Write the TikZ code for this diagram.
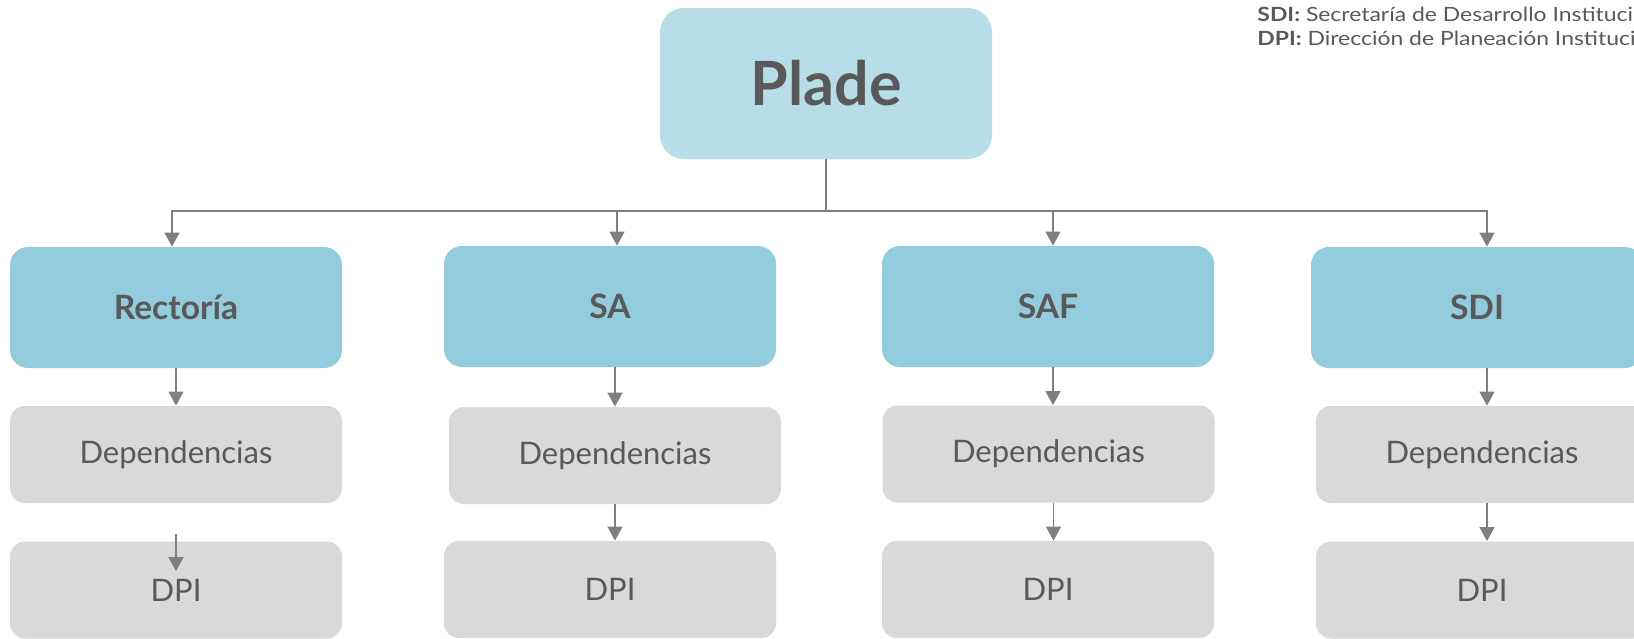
\documentclass[tikz,border=0pt]{standalone}
\usepackage{fontspec}
\setmainfont{Lato}
\usepackage{tikz}
\usetikzlibrary{arrows.meta}
\definecolor{plade}{HTML}{B7DEE8}
\definecolor{secblue}{HTML}{93CDDD}
\definecolor{depgray}{HTML}{D9D9D9}
\definecolor{txtgray}{HTML}{595959}
\definecolor{lngray}{HTML}{7F7F7F}

\begin{document}
\begin{tikzpicture}[x=0.5pt,y=-0.5pt]
\tikzstyle{every node}+=[inner sep=0pt,text=txtgray]
\tikzstyle{top}=[fill=plade,rounded corners=12pt,minimum width=166pt,minimum height=75.5pt,font=\fontsize{30.5}{32}\selectfont\bfseries]
\tikzstyle{sec}=[fill=secblue,rounded corners=9pt,minimum width=166pt,minimum height=60.5pt,font=\fontsize{16.8}{18}\selectfont\bfseries]
\tikzstyle{dep}=[fill=depgray,rounded corners=7.5pt,minimum width=166pt,minimum height=48.5pt,font=\fontsize{15.5}{17}\selectfont]
\tikzstyle{legend}=[anchor=base west,font=\fontsize{9.8}{11}\selectfont\addfontfeatures{FakeStretch=1.17}]
\tikzstyle{line}=[draw=lngray,line width=0.6pt]
\tikzstyle{arr}=[line,-{Triangle[width=7.5pt,length=7pt]},color=lngray]
\useasboundingbox (0,0) rectangle (1634,638);
\clip (0,0) rectangle (1634,638);
% top
\node [top] (plade) at (826,83.5) {Plade};
% secretarias
\node [sec] (rect) at (176,307.5) {Rectoría};
\node [sec] (sa) at (610,306.5) {SA};
\node [sec] (saf) at (1048,306.5) {SAF};
\node [sec] (sdi) at (1477,307.5) {SDI};
% dependencias
\node [dep] (dep1) at (176,454.5) {Dependencias};
\node [dep] (dep2) at (615,455.5) {Dependencias};
\node [dep] (dep3) at (1048.5,454) {Dependencias};
\node [dep] (dep4) at (1482,454.5) {Dependencias};
% dpi
\node [dep] (dpi1) at (176,590) {DPI};
\node [dep] (dpi2) at (610,589.5) {DPI};
\node [dep] (dpi3) at (1048,589.5) {DPI};
\node [dep] (dpi4) at (1482,590) {DPI};
% legend
\node [legend] (lsdi) at (1257,21.7) {\textbf{SDI:} Secretaría de Desarrollo Institucional};
\node [legend] (ldpi) at (1257,45) {\textbf{DPI:} Dirección de Planeación Institucional};
% connectors
\coordinate (bus) at (826,211);
\draw [line] (plade.south) -- (bus);
\draw [arr] (bus) -| ([xshift=-2pt]rect.north);
\draw [arr] (bus) -| ([xshift=3.5pt]sa.north);
\draw [arr] (bus) -| ([xshift=2.5pt]saf.north);
\draw [arr] (bus) -| ([xshift=5pt]sdi.north);
\draw [arr] (rect.south -| dep1.north) -- (dep1.north);
\draw [arr] (sa.south -| dep2.north) -- (dep2.north);
\draw [arr] ([xshift=2.5pt]saf.south) -- ([xshift=2.5pt]saf.south |- dep3.north);
\draw [arr] ([xshift=5pt]sdi.south) -- ([xshift=5pt]sdi.south |- dep4.north);
\draw [arr] ([yshift=-15.5pt]dep1.south) -- ([yshift=-15pt]dpi1.north);
\draw [arr] (dep2.south) -- (dep2.south |- dpi2.north);
\draw [arr] ([xshift=2.5pt]dep3.south) -- ([xshift=2.5pt]dep3.south |- dpi3.north);
\draw [arr] ([xshift=2.5pt]dep4.south) -- ([xshift=2.5pt]dep4.south |- dpi4.north);
\end{tikzpicture}
\end{document}
